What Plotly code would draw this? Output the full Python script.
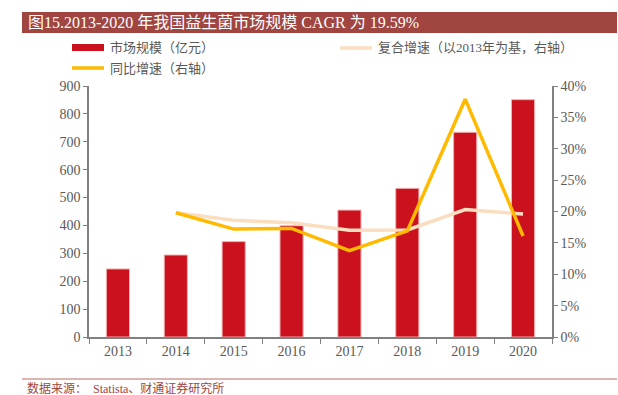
import plotly.graph_objects as go

years = ["2013", "2014", "2015", "2016", "2017", "2018", "2019", "2020"]
market_size = [244, 294, 342, 399, 455, 533, 734, 851]
yoy_growth = [None, 0.198, 0.172, 0.173, 0.1375, 0.169, 0.379, 0.161]
cagr_growth = [None, 0.198, 0.186, 0.182, 0.170, 0.1705, 0.203, 0.1959]

title_text = "图15.2013-2020 年我国益生菌市场规模 CAGR 为 19.59%"
source_text = "数据来源：  Statista、财通证券研究所"
name_bar = "市场规模（亿元）"
name_cagr = "复合增速（以2013年为基，右轴）"
name_yoy = "同比增速（右轴）"

FONT = "Liberation Serif, Noto Sans CJK SC, serif"
GRAY = "#595959"
RED = "#CC111E"
YELLOW = "#FFBA00"
BEIGE = "#FBDDBF"
BROWN = "#A0453F"

fig = go.Figure()
fig.add_trace(go.Bar(x=years, y=market_size, name=name_bar, marker=dict(color=RED, line=dict(color="#F3B0B0", width=1)),
                     width=0.4, showlegend=False))
fig.add_trace(go.Scatter(x=years, y=cagr_growth, name=name_cagr, yaxis="y2", mode="lines",
                         line=dict(color=BEIGE, width=3.5), showlegend=False))
fig.add_trace(go.Scatter(x=years, y=yoy_growth, name=name_yoy, yaxis="y2", mode="lines",
                         line=dict(color=YELLOW, width=3.5), showlegend=False))

fig.update_layout(
    width=618, height=395,
    margin=dict(l=89, r=66, t=86, b=58),
    paper_bgcolor="white", plot_bgcolor="white",
    font=dict(family=FONT, color=GRAY, size=13),
    xaxis=dict(type="category", showline=True, linecolor="#808080", linewidth=1.5,
               ticks="outside", tickson="boundaries", ticklen=5, tickcolor="#808080",
               tickfont=dict(size=14, color=GRAY), showgrid=False),
    yaxis=dict(range=[0, 900], dtick=100, showline=True, linecolor="#808080", linewidth=1.5,
               ticks="outside", ticklen=4, tickcolor="#808080", showgrid=False, zeroline=False,
               tickfont=dict(size=14, color=GRAY)),
    yaxis2=dict(range=[0, 0.4], dtick=0.05, tickformat=".0%", overlaying="y", side="right",
                showline=True, linecolor="#808080", linewidth=1.5, ticks="outside", ticklen=4,
                tickcolor="#808080", showgrid=False, zeroline=False, tickfont=dict(size=14, color=GRAY)),
)

pw = 618 - 89 - 66
ph = 395 - 86 - 58
def px(x):
    return (x - 89) / pw
def py(y):
    return (395 - 58 - y) / ph

shapes = [
    dict(type="rect", xref="paper", yref="paper", x0=px(22), x1=px(617), y0=py(33), y1=py(12),
         line=dict(width=0), fillcolor=BROWN, layer="below"),
    dict(type="line", xref="paper", yref="paper", x0=px(22), x1=px(617), y0=py(379), y1=py(379),
         line=dict(color="#B86A64", width=1)),
    dict(type="rect", xref="paper", yref="paper", x0=px(72), x1=px(104), y0=py(51), y1=py(44),
         line=dict(width=0), fillcolor=RED),
    dict(type="line", xref="paper", yref="paper", x0=px(340), x1=px(372), y0=py(48), y1=py(48),
         line=dict(color=BEIGE, width=3.5)),
    dict(type="line", xref="paper", yref="paper", x0=px(72), x1=px(104), y0=py(68), y1=py(68),
         line=dict(color=YELLOW, width=3.5)),
]
fig.update_layout(shapes=shapes)

ann = [
    dict(text=title_text, x=px(26), y=py(22.5), xanchor="left", yanchor="middle",
         font=dict(size=16, color="white", family=FONT)),
    dict(text=name_bar, x=px(108), y=py(48), xanchor="left", yanchor="middle",
         font=dict(size=13, color=GRAY, family=FONT)),
    dict(text=name_cagr, x=px(376), y=py(48), xanchor="left", yanchor="middle",
         font=dict(size=13, color=GRAY, family=FONT)),
    dict(text=name_yoy, x=px(108), y=py(68), xanchor="left", yanchor="middle",
         font=dict(size=13, color=GRAY, family=FONT)),
    dict(text=source_text, x=px(25), y=py(388), xanchor="left", yanchor="middle",
         font=dict(size=12, color="#A0453F", family=FONT)),
]
for a in ann:
    a.update(xref="paper", yref="paper", showarrow=False)
fig.update_layout(annotations=ann)

fig.write_html("out.html", config={"displayModeBar": False},
               post_script="document.body.style.margin='0';document.body.style.overflow='hidden';")
